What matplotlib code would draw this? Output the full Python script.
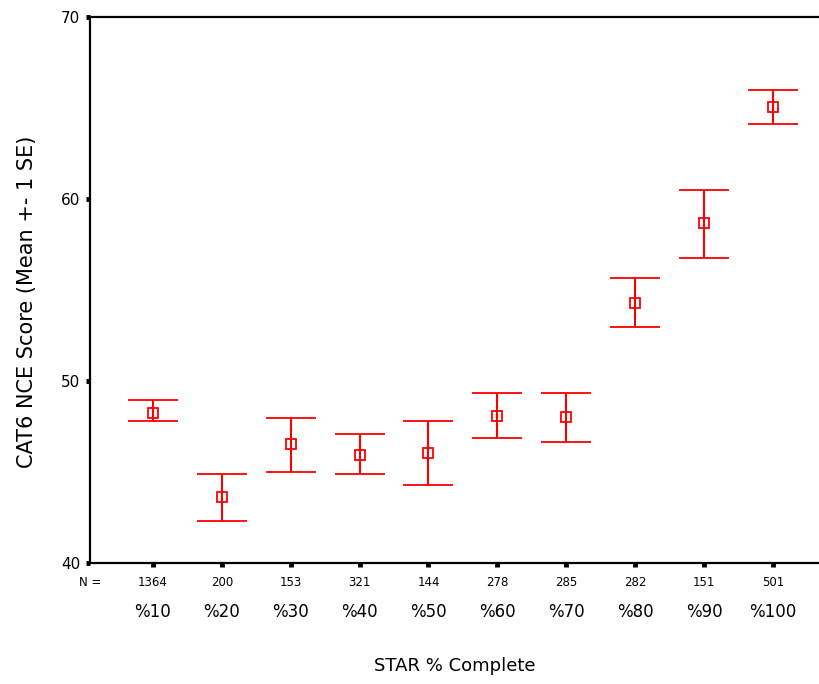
import matplotlib
matplotlib.use("Agg")
import matplotlib.pyplot as plt
import matplotlib.transforms as mtrans

categories = ["%10", "%20", "%30", "%40", "%50", "%60", "%70", "%80", "%90", "%100"]
counts = [1364, 200, 153, 321, 144, 278, 285, 282, 151, 501]
means = [48.24, 43.64, 46.54, 45.92, 46.03, 48.09, 48.00, 54.30, 58.66, 65.05]
upper = [48.93, 44.87, 47.98, 47.07, 47.80, 49.32, 49.32, 55.64, 60.51, 65.99]
lower = [47.81, 42.29, 44.98, 44.87, 44.27, 46.85, 46.65, 52.95, 56.77, 64.14]

plt.rcParams['font.family'] = ['DejaVu Sans']
W, H = 819, 684
fig = plt.figure(figsize=(W / 100, H / 100), dpi=100)
left, right, top, bottom = 90, 830, 17, 563
ax = fig.add_axes([left / W, (H - bottom) / H, (right - left) / W, (bottom - top) / H])

xs = list(range(1, len(categories) + 1))
yerr = [[m - l for m, l in zip(means, lower)], [u - m for u, m in zip(upper, means)]]
ax.errorbar(xs, means, yerr=yerr, fmt='s', mfc='none', mec='#ff0000', ms=7.5, mew=1.3,
            ecolor='#ff0000', elinewidth=1.5, capsize=18, capthick=1.5, color='#ff0000')

ax.set_ylim(40, 70)
ax.set_xlim(0.086, 10.67 + (830 - 819) / 68.9)
ax.set_yticks([40, 50, 60, 70])
ax.set_xticks(xs)
ax.set_xticklabels([])
for s in ['left', 'top', 'bottom']:
    ax.spines[s].set_linewidth(1.6)
ax.spines['right'].set_visible(False)
ax.tick_params(axis='y', direction='out', length=3, width=3.5, pad=4, labelsize=11)
ax.tick_params(axis='x', direction='out', length=3, width=3.5)

tr = mtrans.blended_transform_factory(ax.transData, fig.transFigure)
ax.text(0.086, 1 - 582 / H, "N =", transform=tr, ha='center', va='center', fontsize=8.5)
for x, c, lab in zip(xs, counts, categories):
    ax.text(x, 1 - 582 / H, str(c), transform=tr, ha='center', va='center', fontsize=8.5)
    ax.text(x, 1 - 612 / H, lab, transform=tr, ha='center', va='center', fontsize=12)

fig.text((90 + 819) / 2 / W, 1 - 666 / H, "STAR % Complete", ha='center', va='center', fontsize=13)
fig.text(27 / W, 1 - 302 / H, "CAT6 NCE Score (Mean +- 1 SE)", rotation=90,
         ha='center', va='center', fontsize=15)

fig.savefig("out.png", dpi=100)
